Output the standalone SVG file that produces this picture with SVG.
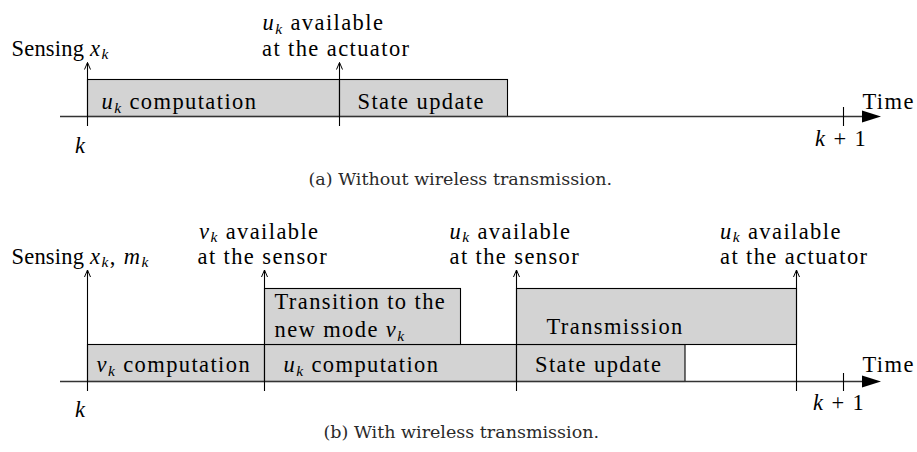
<svg xmlns="http://www.w3.org/2000/svg" width="917" height="452" viewBox="0 0 917 452">
<style>
.t{font-family:"Liberation Serif","Times New Roman",serif;font-size:22.5px;letter-spacing:1.4px;fill:#000}
.m{font-style:italic}
.s{font-style:italic;font-size:15.5px}
.n{letter-spacing:0.2px}
.cap{font-family:"DejaVu Serif",serif;font-size:17.5px;fill:#2a2a2a}
.box{fill:#d3d3d3;stroke:#000;stroke-width:1.1}
.axis{stroke:#333;stroke-width:1.3;fill:none}
.arr{stroke:#000;stroke-width:1.1;fill:none;marker-end:url(#open)}
.tick{stroke:#000;stroke-width:1.1}
</style>
<defs>
<marker id="open" viewBox="-8 -4 9 8" refX="0" refY="0" markerWidth="9" markerHeight="8" markerUnits="userSpaceOnUse" orient="auto" overflow="visible">
<path d="M-7,-3 L0,0 L-7,3" fill="none" stroke="#000" stroke-width="1"/>
</marker>
</defs>
<rect width="917" height="452" fill="#fff"/>

<!-- Panel (a) -->
<g id="a-boxes">
<g id="a-ucomp"><rect class="box" x="87.5" y="79.5" width="252" height="37"/>
<text class="t" x="101.5" y="109"><tspan class="m">u</tspan><tspan class="s" dy="3.5">k</tspan><tspan dy="-3.5"> computation</tspan></text></g>
<g id="a-state"><rect class="box" x="339.5" y="79.5" width="168" height="37"/>
<text class="t" x="357.5" y="109">State update</text></g>
</g>
<g id="a-axis">
<line class="axis" x1="60" y1="116.5" x2="866" y2="116.5"/>
<polygon points="862,110.5 881,116.5 862,122.5" fill="#000"/>
<line class="tick" x1="843.5" y1="107" x2="843.5" y2="126"/>
<text class="t" x="862.5" y="109">Time</text>
<text class="t" x="75" y="153"><tspan class="m">k</tspan></text>
<text class="t" x="815" y="146"><tspan class="m">k</tspan> + 1</text>
</g>
<g id="a-labels">
<text class="t" x="11.5" y="55.5"><tspan class="n">Sensing </tspan><tspan class="m">x</tspan><tspan class="s" dy="3.5">k</tspan></text>
<text class="t" x="262.5" y="30"><tspan class="m">u</tspan><tspan class="s" dy="3.5">k</tspan><tspan dy="-3.5"> available</tspan></text>
<text class="t" x="262" y="56">at the actuator</text>
</g>
<g id="a-connectors">
<line class="arr" x1="87.5" y1="126" x2="87.5" y2="62.5"/>
<line class="arr" x1="339.5" y1="126" x2="339.5" y2="62.5"/>
</g>
<text class="cap" x="308.5" y="185">(a)  Without wireless transmission.</text>

<!-- Panel (b) -->
<g id="b-boxes">
<g id="b-vcomp"><rect class="box" x="87.5" y="344.5" width="177" height="37"/>
<text class="t" x="96.5" y="372"><tspan class="m">v</tspan><tspan class="s" dy="3.5">k</tspan><tspan dy="-3.5"> computation</tspan></text></g>
<g id="b-ucomp"><rect class="box" x="264.5" y="344.5" width="252" height="37"/>
<text class="t" x="283.5" y="372"><tspan class="m">u</tspan><tspan class="s" dy="3.5">k</tspan><tspan dy="-3.5"> computation</tspan></text></g>
<g id="b-state"><rect class="box" x="516.5" y="344.5" width="168.5" height="37"/>
<text class="t" x="535" y="372">State update</text></g>
<g id="b-trans"><rect class="box" x="264.5" y="288.5" width="196" height="56"/>
<text class="t" x="274.5" y="308.5">Transition to the</text>
<text class="t" x="274.5" y="337">new mode <tspan class="m">v</tspan><tspan class="s" dy="3.5">k</tspan></text></g>
<g id="b-tx"><rect class="box" x="516.5" y="288.5" width="280" height="56"/>
<text class="t" x="546.5" y="333.5">Transmission</text></g>
</g>
<g id="b-axis">
<line class="axis" x1="60" y1="381.5" x2="866" y2="381.5"/>
<polygon points="862,375.5 881,381.5 862,387.5" fill="#000"/>
<line class="tick" x1="843.5" y1="373" x2="843.5" y2="391"/>
<text class="t" x="862.5" y="372">Time</text>
<text class="t" x="75" y="417"><tspan class="m">k</tspan></text>
<text class="t" x="813" y="409.5"><tspan class="m">k</tspan> + 1</text>
</g>
<g id="b-labels">
<text class="t" x="11.5" y="263.5"><tspan class="n">Sensing </tspan><tspan class="m">x</tspan><tspan class="s" dy="3.5">k</tspan><tspan dy="-3.5">, </tspan><tspan class="m">m</tspan><tspan class="s" dy="3.5">k</tspan></text>
<text class="t" x="199" y="238.5"><tspan class="m">v</tspan><tspan class="s" dy="3.5">k</tspan><tspan dy="-3.5"> available</tspan></text>
<text class="t" x="197.5" y="263.5">at the sensor</text>
<text class="t" x="449.5" y="238.5"><tspan class="m">u</tspan><tspan class="s" dy="3.5">k</tspan><tspan dy="-3.5"> available</tspan></text>
<text class="t" x="449.5" y="263.5">at the sensor</text>
<text class="t" x="720" y="238.5"><tspan class="m">u</tspan><tspan class="s" dy="3.5">k</tspan><tspan dy="-3.5"> available</tspan></text>
<text class="t" x="720" y="263.5">at the actuator</text>
</g>
<g id="b-connectors">
<line class="arr" x1="87.5" y1="391" x2="87.5" y2="270"/>
<line class="arr" x1="264.5" y1="391" x2="264.5" y2="270"/>
<line class="arr" x1="516.5" y1="391" x2="516.5" y2="270"/>
<line class="arr" x1="796.5" y1="391" x2="796.5" y2="270"/>
</g>
<text class="cap" x="323.5" y="437.5">(b)  With wireless transmission.</text>
</svg>
